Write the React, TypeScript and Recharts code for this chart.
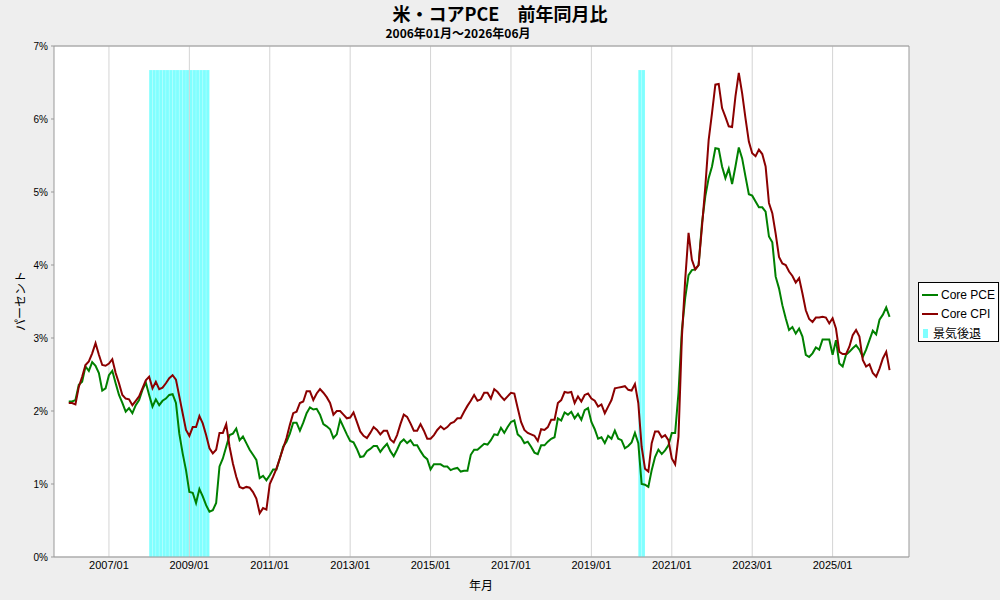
import React from "react";
import {
  ComposedChart,
  Line,
  XAxis,
  YAxis,
  CartesianGrid,
  ReferenceArea,
  ReferenceLine,
} from "recharts";

// ---- categories: monthly, 2006/01 .. 2026/06 ----
const START_YEAR = 2006;
const MONTH_COUNT = 246;
const months: string[] = Array.from(
  { length: MONTH_COUNT },
  (_, i) => `${START_YEAR + Math.floor(i / 12)}/${String((i % 12) + 1).padStart(2, "0")}`
);

// ---- series (% YoY) ----
const corePCE: number[] = [
  2.13, 2.13, 2.15, 2.36, 2.40, 2.61, 2.55, 2.67, 2.62, 2.52, 2.28, 2.31,
  2.49, 2.55, 2.38, 2.22, 2.11, 1.99, 2.04, 1.97, 2.08, 2.15, 2.29, 2.39,
  2.22, 2.06, 2.16, 2.08, 2.14, 2.17, 2.22, 2.23, 2.11, 1.69, 1.42, 1.19,
  0.89, 0.88, 0.74, 0.93, 0.83, 0.71, 0.62, 0.64, 0.74, 1.24, 1.35, 1.51,
  1.67, 1.69, 1.76, 1.60, 1.65, 1.56, 1.47, 1.40, 1.33, 1.08, 1.11, 1.05,
  1.12, 1.20, 1.20, 1.35, 1.51, 1.58, 1.69, 1.84, 1.84, 1.73, 1.84, 1.97,
  2.05, 2.02, 2.03, 1.95, 1.82, 1.79, 1.75, 1.63, 1.68, 1.88, 1.78, 1.68,
  1.59, 1.57, 1.48, 1.37, 1.38, 1.45, 1.48, 1.52, 1.52, 1.44, 1.50, 1.55,
  1.45, 1.38, 1.47, 1.57, 1.61, 1.56, 1.60, 1.53, 1.53, 1.45, 1.38, 1.34,
  1.20, 1.27, 1.27, 1.27, 1.24, 1.24, 1.19, 1.21, 1.22, 1.17, 1.18, 1.18,
  1.40, 1.47, 1.47, 1.51, 1.55, 1.54, 1.60, 1.68, 1.67, 1.77, 1.70, 1.78,
  1.85, 1.87, 1.68, 1.64, 1.56, 1.58, 1.51, 1.43, 1.41, 1.53, 1.53, 1.58,
  1.62, 1.64, 1.90, 1.87, 1.98, 1.95, 1.99, 1.90, 1.96, 1.88, 2.01, 2.04,
  1.85, 1.75, 1.62, 1.64, 1.56, 1.66, 1.62, 1.73, 1.62, 1.60, 1.49, 1.52,
  1.57, 1.70, 1.56, 1.00, 0.99, 0.96, 1.19, 1.37, 1.47, 1.41, 1.46, 1.53,
  1.70, 1.70, 2.25, 3.10, 3.55, 3.86, 3.93, 3.94, 4.00, 4.57, 4.94, 5.19,
  5.35, 5.60, 5.59, 5.35, 5.19, 5.32, 5.11, 5.35, 5.61, 5.46, 5.21, 4.97,
  4.95, 4.87, 4.79, 4.79, 4.73, 4.39, 4.31, 3.84, 3.68, 3.45, 3.27, 3.11,
  3.15, 3.06, 3.13, 3.02, 2.77, 2.74, 2.79, 2.87, 2.84, 2.98, 2.98, 2.98,
  2.77, 2.97, 2.65, 2.61, 2.77, 2.81, 2.86, 2.90, 2.84, 2.74, 2.84, 2.97,
  3.10, 3.05, 3.25, 3.32, 3.42, 3.29,
];

const coreCPI: number[] = [
  2.11, 2.11, 2.09, 2.33, 2.47, 2.63, 2.68, 2.79, 2.93, 2.77, 2.63, 2.62,
  2.65, 2.71, 2.52, 2.38, 2.22, 2.17, 2.16, 2.08, 2.14, 2.20, 2.31, 2.42,
  2.47, 2.31, 2.40, 2.30, 2.32, 2.38, 2.45, 2.49, 2.43, 2.20, 1.97, 1.74,
  1.66, 1.78, 1.78, 1.93, 1.83, 1.67, 1.49, 1.42, 1.47, 1.70, 1.70, 1.82,
  1.51, 1.28, 1.10, 0.96, 0.94, 0.96, 0.95, 0.89, 0.80, 0.60, 0.67, 0.65,
  1.00, 1.10, 1.21, 1.35, 1.49, 1.63, 1.81, 1.97, 1.99, 2.11, 2.13, 2.27,
  2.27, 2.15, 2.24, 2.30, 2.25, 2.19, 2.11, 1.95, 2.00, 2.00, 1.95, 1.90,
  1.91, 1.98, 1.85, 1.72, 1.66, 1.63, 1.70, 1.78, 1.74, 1.68, 1.73, 1.73,
  1.61, 1.57, 1.67, 1.82, 1.95, 1.92, 1.83, 1.73, 1.73, 1.82, 1.73, 1.62,
  1.62, 1.67, 1.74, 1.79, 1.75, 1.78, 1.83, 1.85, 1.90, 1.90, 1.99, 2.07,
  2.14, 2.22, 2.14, 2.16, 2.25, 2.25, 2.17, 2.30, 2.26, 2.20, 2.15, 2.20,
  2.25, 2.24, 2.04, 1.85, 1.74, 1.70, 1.68, 1.66, 1.59, 1.75, 1.74, 1.78,
  1.88, 1.88, 2.11, 2.15, 2.26, 2.25, 2.26, 2.11, 2.20, 2.13, 2.22, 2.24,
  2.17, 2.14, 2.06, 2.09, 1.97, 2.06, 2.15, 2.31, 2.32, 2.33, 2.34, 2.29,
  2.28, 2.37, 2.11, 1.51, 1.21, 1.17, 1.56, 1.72, 1.72, 1.64, 1.67, 1.60,
  1.35, 1.27, 1.65, 3.00, 3.80, 4.44, 4.07, 3.94, 4.00, 4.52, 5.07, 5.71,
  6.08, 6.47, 6.48, 6.15, 6.03, 5.90, 5.89, 6.31, 6.63, 6.35, 6.01, 5.69,
  5.53, 5.49, 5.58, 5.52, 5.35, 4.85, 4.71, 4.43, 4.11, 4.02, 4.00, 3.91,
  3.85, 3.76, 3.82, 3.61, 3.38, 3.26, 3.22, 3.28, 3.28, 3.29, 3.28, 3.20,
  3.27, 3.13, 2.81, 2.78, 2.78, 2.88, 3.04, 3.11, 3.02, 2.70, 2.61, 2.64,
  2.52, 2.47, 2.58, 2.72, 2.81, 2.56,
];

// ---- tick labels ----
const xTickLabels = [
  "2007/01", "2009/01", "2011/01", "2013/01", "2015/01",
  "2017/01", "2019/01", "2021/01", "2023/01", "2025/01",
];
const yTicks = [0, 1, 2, 3, 4, 5, 6, 7];
const yMinorTicks = [0, 0.5, 1, 1.5, 2, 2.5, 3, 3.5, 4, 4.5, 5, 5.5, 6, 6.5, 7];

// ---- recessions (first month, last month) ----
const recessionPeriods: [string, string][] = [
  ["2008/01", "2009/06"],
  ["2020/03", "2020/04"],
];
const recessionTop = 6.67;

const seriesNames = ["Core PCE", "Core CPI"];
const recessionName = "景気後退";

// ---- derived tables ----
const data = months.map((m, i) => ({ t: i, month: m, pce: corePCE[i], cpi: coreCPI[i] }));
const xTicks = xTickLabels.map((l) => months.indexOf(l));
const recessionMonthIdx: number[] = [];
recessionPeriods.forEach(([a, b]) => {
  for (let i = months.indexOf(a); i <= months.indexOf(b); i++) recessionMonthIdx.push(i);
});

const GREEN = "#008000";
const RED = "#8B0000";
const CYAN = "#80FFFF";
const AXIS = "#999999";
const GRID = "#D4D4D4";
const SANS = '"Liberation Sans", Arial, "Noto Sans CJK JP", sans-serif';
const CJK = '"Noto Sans CJK JP", "Liberation Sans", sans-serif';

export default function App() {
  return (
    <div
      style={{
        position: "fixed",
        left: 0,
        top: 0,
        width: 1000,
        height: 600,
        background: "#EEEEEE",
        overflow: "hidden",
        fontFamily: SANS,
      }}
    >
      <div style={{ position: "absolute", left: 0, top: 0 }}>
        <ComposedChart
          width={1000}
          height={600}
          data={data}
          margin={{ top: 46, right: 86, bottom: 13, left: 14 }}
        >
          <CartesianGrid stroke={GRID} fill="#ffffff" vertical={false} />
          <XAxis
            type="number"
            dataKey="t"
            domain={[-4.4, 250.8]}
            allowDataOverflow
            ticks={xTicks}
            tickFormatter={(v: number) => months[v]}
            height={30}
            tickLine={false}
            tickSize={4}
            tickMargin={0}
            axisLine={{ stroke: AXIS }}
            tick={{ fontSize: 11, fill: "#000", fontFamily: SANS }}
          />
          <YAxis
            yAxisId="left"
            type="number"
            domain={[0, 7]}
            ticks={yTicks}
            width={40}
            tickSize={3}
            tickMargin={3}
            tickFormatter={(v: number) => `${v}%`}
            axisLine={{ stroke: AXIS }}
            tickLine={{ stroke: AXIS }}
            tick={{ fontSize: 10, fill: "#000", fontFamily: SANS }}
          />
          <YAxis
            yAxisId="right"
            orientation="right"
            type="number"
            domain={[0, 7]}
            ticks={yMinorTicks}
            width={5}
            tickSize={3}
            tick={false}
            axisLine={{ stroke: AXIS }}
            tickLine={{ stroke: AXIS }}
          />
          {xTicks.map((t) => (
            <ReferenceLine key={`vg-${t}`} yAxisId="left" x={t} stroke={GRID} strokeWidth={1} />
          ))}
          {recessionMonthIdx.map((i) => (
            <ReferenceArea
              key={`rec-${i}`}
              yAxisId="left"
              x1={i}
              x2={i + 1}
              y1={0}
              y2={recessionTop}
              fill={CYAN}
              fillOpacity={1}
              stroke="#ffffff"
              strokeOpacity={0.25}
              strokeWidth={0.5}
              ifOverflow="hidden"
            />
          ))}
          <ReferenceLine yAxisId="left" y={7} stroke={AXIS} ifOverflow="visible" />
          <Line
            yAxisId="left"
            type="linear"
            dataKey="pce"
            name={seriesNames[0]}
            stroke={GREEN}
            strokeWidth={2}
            dot={false}
            activeDot={false}
            isAnimationActive={false}
          />
          <Line
            yAxisId="left"
            type="linear"
            dataKey="cpi"
            name={seriesNames[1]}
            stroke={RED}
            strokeWidth={2}
            dot={false}
            activeDot={false}
            isAnimationActive={false}
          />
        </ComposedChart>
      </div>

      {/* Title */}
      <div
        style={{
          position: "absolute",
          left: 0,
          width: 1000,
          top: 3,
          textAlign: "center",
          fontFamily: CJK,
          fontWeight: 700,
          fontSize: 18,
          lineHeight: "20px",
          color: "#000",
        }}
      >
        米・コアPCE　前年同月比
      </div>
      <div
        style={{
          position: "absolute",
          left: 258,
          width: 400,
          top: 26,
          textAlign: "center",
          fontFamily: CJK,
          fontWeight: 700,
          fontSize: 12,
          lineHeight: "13px",
          color: "#000",
        }}
      >
        2006年01月～2026年06月
      </div>

      {/* Axis titles */}
      <div
        style={{
          position: "absolute",
          left: 20,
          top: 301,
          transform: "translate(-50%, -50%) rotate(-90deg)",
          fontFamily: CJK,
          fontSize: 12,
          lineHeight: "14px",
          whiteSpace: "nowrap",
          color: "#000",
        }}
      >
        パーセント
      </div>
      <div
        style={{
          position: "absolute",
          left: 431,
          width: 100,
          top: 578,
          textAlign: "center",
          fontFamily: CJK,
          fontSize: 12,
          lineHeight: "14px",
          color: "#000",
        }}
      >
        年月
      </div>

      {/* Legend */}
      <div
        style={{
          position: "absolute",
          left: 918,
          top: 282,
          width: 81,
          height: 60,
          border: "1px solid #000",
          background: "#fff",
          boxSizing: "border-box",
          fontSize: 12,
          fontFamily: SANS,
          color: "#000",
        }}
      >
        {[GREEN, RED].map((c, k) => (
          <div
            key={k}
            style={{
              position: "absolute",
              left: 3,
              top: 5 + k * 19,
              height: 14,
              display: "flex",
              alignItems: "center",
              whiteSpace: "nowrap",
            }}
          >
            <span style={{ display: "inline-block", width: 16, height: 2, background: c, marginRight: 3 }} />
            <span style={{ lineHeight: "14px" }}>{seriesNames[k]}</span>
          </div>
        ))}
        <div
          style={{
            position: "absolute",
            left: 3,
            top: 43,
            height: 14,
            display: "flex",
            alignItems: "center",
            whiteSpace: "nowrap",
          }}
        >
          <span style={{ display: "inline-block", width: 5, height: 9, background: CYAN, marginLeft: 1, marginRight: 5 }} />
          <span style={{ lineHeight: "14px", fontFamily: CJK }}>{recessionName}</span>
        </div>
      </div>
    </div>
  );
}
